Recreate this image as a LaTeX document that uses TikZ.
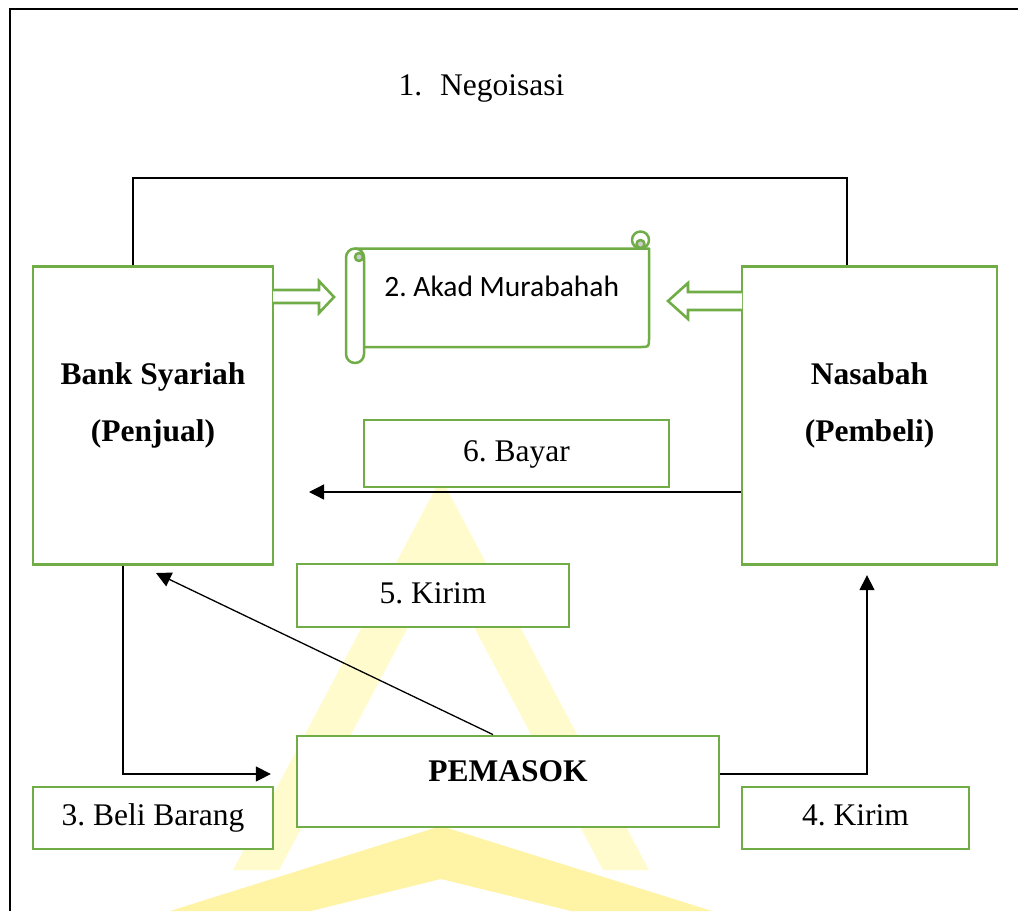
\documentclass[tikz,border=0pt]{standalone}
\usepackage{fontspec}
\setmainfont{Liberation Serif}
\newfontfamily\calibrifont{Carlito}
\usetikzlibrary{arrows.meta,calc}
\definecolor{wgreen}{RGB}{112,173,71}
\definecolor{wmA}{RGB}{255,251,205}
\definecolor{wmB}{RGB}{255,243,165}
\definecolor{curlgrey}{RGB}{205,205,205}
\frenchspacing
\begin{document}
\frenchspacing
\begin{tikzpicture}[x=1pt,y=-1pt,
  box/.style={draw=wgreen, line width=2.8pt, fill=white, inner sep=0pt},
  lbl/.style={font=\fontsize{31.5}{36}\selectfont, text height=21pt, text depth=6pt},
  title/.style={font=\fontsize{31.5}{36}\selectfont\bfseries, anchor=base, inner sep=0pt},
  conn/.style={draw=black, line width=1.3pt},
  tip/.style={-{Triangle[length=15pt,width=15pt]}},
  sc/.style={draw=wgreen, line width=2.5pt, line join=round},
  blockarrow/.style={draw=wgreen, line width=2.6pt, fill=white, line join=miter}]
\useasboundingbox (0,0) rectangle (1018,911);
% watermark (faint logo)
\fill[wmA] (441,478) -- (233,870) -- (279,870) -- (441,565) -- (603,870) -- (649,870) -- cycle;
\fill[wmB] (170,911) -- (441,826) -- (712,911) -- (571,911) -- (441,879) -- (311,911) -- cycle;
% outer frame
\draw[line width=2pt, line join=miter] (10,911) -- (10,9) -- (1018,9);
% title
\node[anchor=base west, inner sep=0pt, font=\fontsize{31.5}{36}\selectfont] (nego) at (398.3,95) {1.\hspace{18pt}Negoisasi};
% main boxes
\node[box, minimum width=240pt, minimum height=298pt] (bank) at (153,415.5) {};
\node[box, minimum width=255pt, minimum height=298pt] (nasabah) at (869.5,415.5) {};
\node[title] (bankT1) at (153,384) {Bank Syariah};
\node[title] (bankT2) at (153,441) {(Penjual)};
\node[title] (nasT1) at (869.5,384) {Nasabah};
\node[title] (nasT2) at (869.5,441) {(Pembeli)};
% negotiation connector
\coordinate (t1) at (133,178);
\coordinate (t2) at (847,178);
\draw[conn] (bank.north -| t1) -- (t1) -- (t2) -- (nasabah.north -| t2);
% scroll (akad)
\draw[sc, fill=white] (355,248.5) -- (649,248.5) -- (649,338.5) .. controls (649,347) .. (640.5,347) -- (355,347) -- cycle;
\draw[sc, fill=white] (640.5,240) circle[radius=8.5];
\draw[sc, fill=curlgrey] (640.5,244) circle[radius=4];
\draw[sc, fill=white, rounded corners=8.9pt] (346,248.5) rectangle (364,363);
\draw[sc, fill=curlgrey] (359,257) circle[radius=4];
\node[anchor=base, inner sep=0pt, font=\calibrifont\fontsize{29.5}{34}\selectfont] (akad) at (501.7,296) {2. Akad Murabahah};
% block arrows
\filldraw[blockarrow] (273,290) -- (319,290) -- (319,281) -- (334,297) -- (319,313) -- (319,303) -- (273,303);
\filldraw[blockarrow] (742,292) -- (688,292) -- (688,283) -- (668,301) -- (688,319) -- (688,310) -- (742,310);
% labels
\node[box, lbl, minimum width=305pt, minimum height=67pt] (bayar) at (516.5,453.5) {6. Bayar};
\node[box, lbl, minimum width=272pt, minimum height=63pt] (kirim5) at (433,595.5) {5. Kirim};
\node[box, minimum width=422pt, minimum height=91pt] (pemasok) at (508,781.5) {};
\node[title] (pemT) at (508,781) {PEMASOK};
\node[box, lbl, minimum width=240pt, minimum height=62pt] (beli) at (153,818) {3. Beli Barang};
\node[box, lbl, minimum width=227pt, minimum height=62pt] (kirim4) at (855.5,818) {4. Kirim};
% connectors
\coordinate (b6) at (309,492);
\draw[conn, tip] (nasabah.west |- b6) -- (b6);
\coordinate (p5) at (493,736);
\coordinate (k5) at (156,573);
\draw[conn, tip] (pemasok.north -| p5) -- (k5);
\coordinate (c3) at (123,774);
\draw[conn, tip, shorten >=24.75pt] (bank.south -| c3) -- (c3) -- (pemasok.west |- c3);
\coordinate (c4) at (867,774);
\draw[conn, tip, shorten >=9.25pt] (pemasok.east |- c4) -- (c4) -- (nasabah.south -| c4);
\end{tikzpicture}
\end{document}
